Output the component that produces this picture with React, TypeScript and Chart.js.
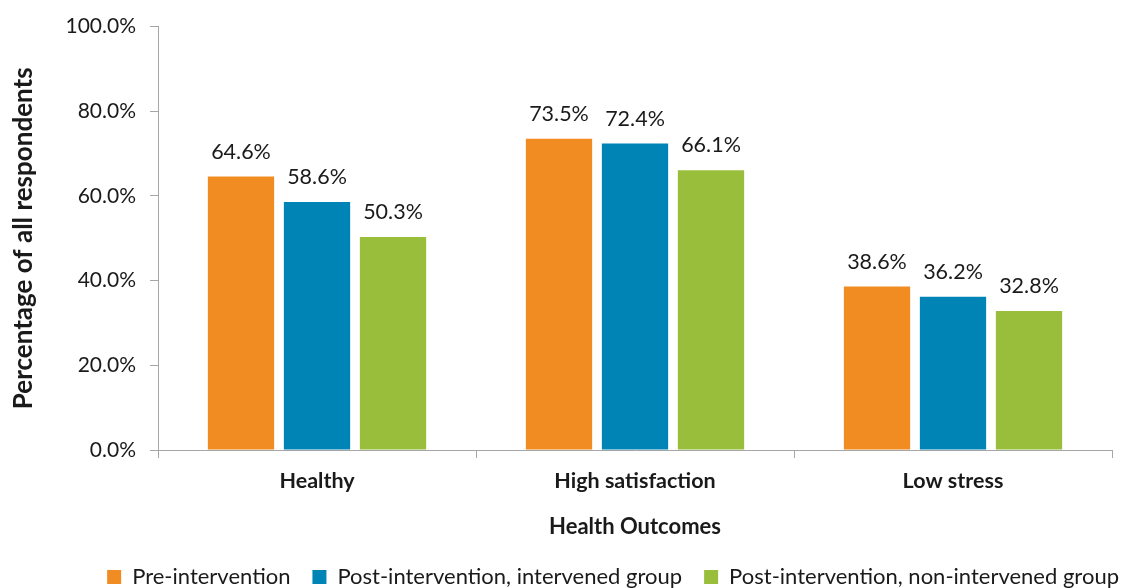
import React, { useEffect, useRef } from "react";
import { Chart, registerables } from "chart.js";

Chart.register(...registerables);

const categories = ["Healthy", "High satisfaction", "Low stress"];
const seriesNames = [
  "Pre-intervention",
  "Post-intervention, intervened group",
  "Post-intervention, non-intervened group",
];
const preIntervention = [64.6, 73.5, 38.6];
const postIntervened = [58.6, 72.4, 36.2];
const postNonIntervened = [50.3, 66.1, 32.8];
const yTicks = [0, 20, 40, 60, 80, 100];

const COLORS = ["#F08C21", "#0083B5", "#99BE3C"];
const FONT = "Lato, 'Open Sans', sans-serif";
const TEXT = "#1a1a1a";
const AXIS = "#A6A6A6";

const PLOT_BOTTOM = 450;

const dataLabels = {
  id: "dataLabels",
  afterDatasetsDraw(chart: any) {
    const ctx = chart.ctx;
    ctx.save();
    ctx.font = `21.5px ${FONT}`;
    ctx.fillStyle = TEXT;
    ctx.textAlign = "center";
    ctx.textBaseline = "bottom";
    chart.data.datasets.forEach((ds: any, i: number) => {
      const meta = chart.getDatasetMeta(i);
      meta.data.forEach((bar: any, j: number) => {
        ctx.fillText(ds.data[j].toFixed(1) + "%", bar.x, bar.y - 14);
      });
    });
    ctx.restore();
  },
};

const legendShift = {
  id: "legendShift",
  afterLayout(chart: any) {
    const lg = chart.legend;
    if (!lg) return;
    const dx = 29;
    const dy = 10;
    lg.left += dx;
    lg.right += dx;
    lg.top += dy;
    lg.bottom += dy;
  },
};

export default function App() {
  const ref = useRef<HTMLCanvasElement>(null);
  useEffect(() => {
    if (!ref.current) return;
    const chart = new Chart(ref.current, {
      type: "bar",
      data: {
        labels: categories,
        datasets: [preIntervention, postIntervened, postNonIntervened].map((d, i) => ({
          label: seriesNames[i],
          data: d,
          backgroundColor: COLORS[i],
          borderWidth: 0,
          categoryPercentage: 0.717,
          barPercentage: 0.872,
        })),
      },
      options: {
        animation: false,
        responsive: true,
        maintainAspectRatio: false,
        layout: { padding: { top: 23, right: 14, left: 0, bottom: 0 } },
        plugins: {
          tooltip: { enabled: false },
          legend: {
            position: "bottom",
            align: "end",
            labels: {
              boxWidth: 14,
              boxHeight: 14,
              padding: 22,
              color: TEXT,
              font: { family: FONT, size: 22 },
            },
          },
        },
        scales: {
          x: {
            grid: {
              display: true,
              drawOnChartArea: false,
              drawTicks: true,
              tickLength: 8,
              color: AXIS,
              offset: true,
            },
            border: { color: AXIS, width: 1 },
            ticks: {
              color: TEXT,
              padding: 10,
              font: { family: FONT, size: 21.5, weight: "bold" },
            },
            title: {
              display: true,
              text: "Health Outcomes",
              color: TEXT,
              font: { family: FONT, size: 22, weight: "bold" },
              padding: { top: 0, bottom: -6 },
            },
            afterFit(scale: any) {
              const legendH = scale.chart.legend ? scale.chart.legend.height : 0;
              scale.height = scale.chart.height - PLOT_BOTTOM - legendH;
            },
          },
          y: {
            min: 0,
            max: 100,
            afterBuildTicks(scale: any) {
              scale.ticks = yTicks.map((v) => ({ value: v }));
            },
            grid: {
              display: true,
              drawOnChartArea: false,
              drawTicks: true,
              tickLength: 8,
              color: AXIS,
            },
            border: { color: AXIS, width: 1 },
            ticks: {
              color: TEXT,
              padding: 14,
              font: { family: FONT, size: 21 },
              callback: (v: any) => Number(v).toFixed(1) + "%",
            },
            title: {
              display: true,
              text: "Percentage of all respondents",
              color: TEXT,
              font: { family: FONT, size: 26, weight: "bold" },
              padding: { top: 8, bottom: 0 },
            },
            afterFit(scale: any) {
              scale.width = 158;
            },
          },
        },
      },
      plugins: [dataLabels, legendShift],
    });
    return () => chart.destroy();
  }, []);
  return (
    <div style={{ position: "fixed", left: 0, top: 0, width: 1126, height: 588, background: "#fff" }}>
      <canvas ref={ref} />
    </div>
  );
}
